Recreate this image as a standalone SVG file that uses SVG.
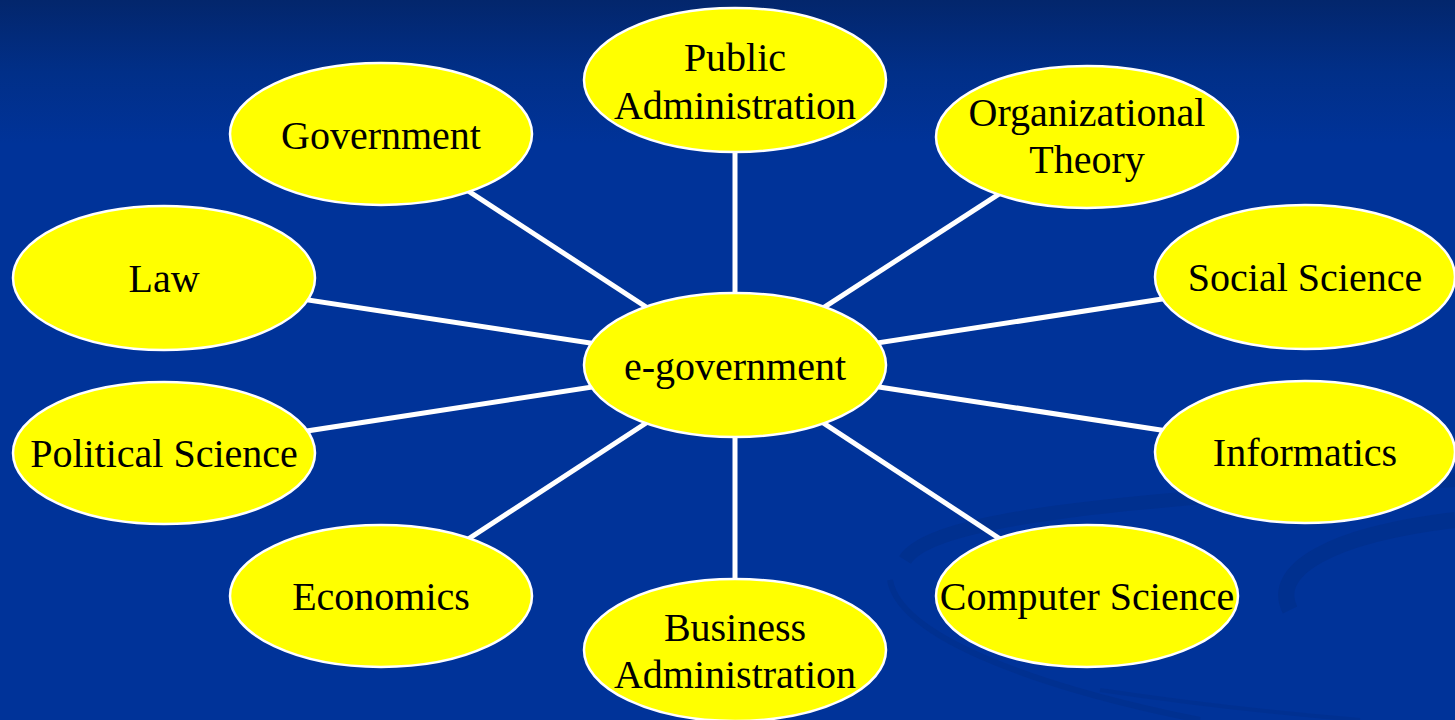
<svg xmlns="http://www.w3.org/2000/svg" width="1455" height="720" viewBox="0 0 1455 720">
<defs>
<linearGradient id="bg" x1="0" y1="0" x2="0" y2="1">
<stop offset="0" stop-color="#03266c"/>
<stop offset="0.1" stop-color="#012f88"/>
<stop offset="0.2" stop-color="#003399"/>
<stop offset="1" stop-color="#003399"/>
</linearGradient>
<style>
.node ellipse{fill:#ffff00;stroke:#ffffff;stroke-width:2.5}
.node text{font-family:"Liberation Serif","Times New Roman",serif;font-size:40px;fill:#000000;text-anchor:middle}
.conn line{stroke:#ffffff;stroke-width:5}
.swirl{fill:none;stroke:#002f8c;}
</style>
</defs>
<rect x="0" y="0" width="1455" height="720" fill="url(#bg)"/>
<g id="swirl">
<path class="swirl" stroke-width="14" d="M905,560 C930,520 1100,500 1455,480" opacity="0.8"/>
<path class="swirl" stroke-width="6" d="M890,580 C900,640 1050,690 1200,720" opacity="0.7"/>
<path class="swirl" stroke-width="16" d="M1290,610 C1270,570 1330,535 1455,520" opacity="0.8"/>
<path class="swirl" stroke-width="4" d="M1100,690 C1200,705 1300,715 1360,720" opacity="0.6"/>
</g>
<g id="connectors" class="conn">
<line x1="735" y1="365" x2="735" y2="80"/>
<line x1="735" y1="365" x2="381" y2="134"/>
<line x1="735" y1="365" x2="1087" y2="137"/>
<line x1="735" y1="365" x2="164" y2="278"/>
<line x1="735" y1="365" x2="1305" y2="277"/>
<line x1="735" y1="365" x2="164" y2="453"/>
<line x1="735" y1="365" x2="1305" y2="452"/>
<line x1="735" y1="365" x2="381" y2="596"/>
<line x1="735" y1="365" x2="1087" y2="596"/>
<line x1="735" y1="365" x2="735" y2="650"/>
</g>
<g id="n-egov" class="node"><ellipse cx="735" cy="365" rx="151" ry="72"/><text x="735" y="380">e-government</text></g>
<g id="n-pubadmin" class="node"><ellipse cx="735" cy="80" rx="151" ry="72"/><text x="735" y="71">Public</text><text x="735" y="119">Administration</text></g>
<g id="n-gov" class="node"><ellipse cx="381" cy="134" rx="151" ry="71"/><text x="381" y="149">Government</text></g>
<g id="n-org" class="node"><ellipse cx="1087" cy="137" rx="151" ry="71"/><text x="1087" y="126">Organizational</text><text x="1087" y="173">Theory</text></g>
<g id="n-law" class="node"><ellipse cx="164" cy="278" rx="151" ry="72"/><text x="164" y="292">Law</text></g>
<g id="n-social" class="node"><ellipse cx="1305" cy="277" rx="150" ry="72"/><text x="1305" y="291">Social Science</text></g>
<g id="n-pol" class="node"><ellipse cx="164" cy="453" rx="151" ry="71"/><text x="164" y="467">Political Science</text></g>
<g id="n-inf" class="node"><ellipse cx="1305" cy="452" rx="150" ry="71"/><text x="1305" y="466">Informatics</text></g>
<g id="n-econ" class="node"><ellipse cx="381" cy="596" rx="151" ry="71"/><text x="381" y="610">Economics</text></g>
<g id="n-cs" class="node"><ellipse cx="1087" cy="596" rx="151" ry="71"/><text x="1087" y="610">Computer Science</text></g>
<g id="n-busadmin" class="node"><ellipse cx="735" cy="650" rx="151" ry="71"/><text x="735" y="641">Business</text><text x="735" y="688">Administration</text></g>
</svg>
